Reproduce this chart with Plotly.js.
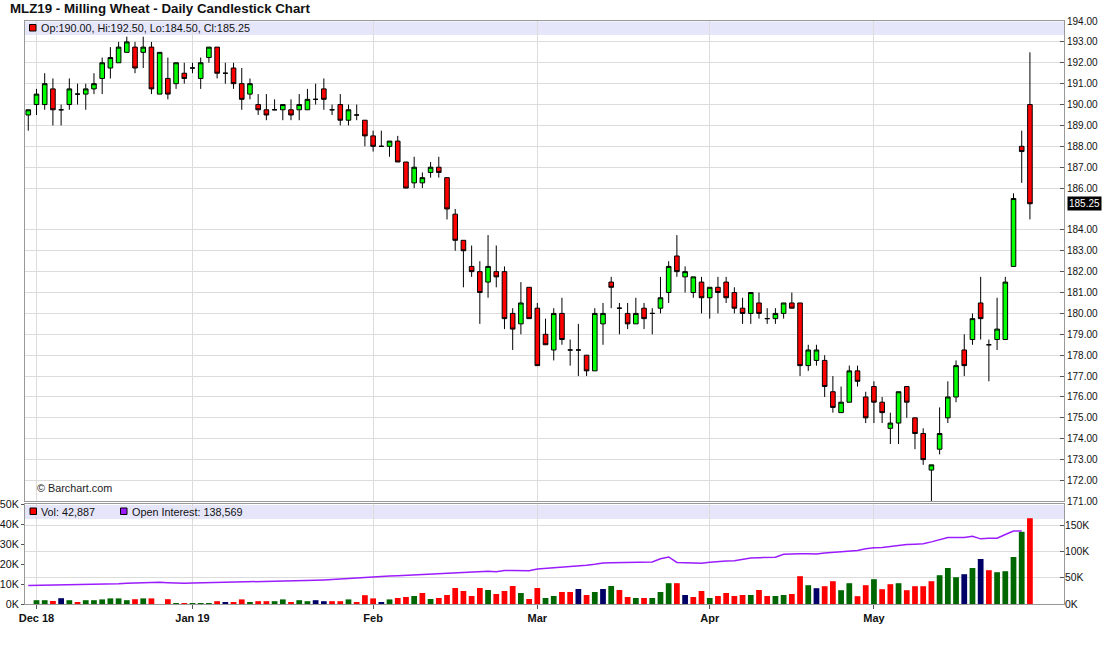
<!DOCTYPE html>
<html>
<head>
<meta charset="utf-8">
<script src="https://cdn.plot.ly/plotly-3.0.1.min.js"></script>
<style>
  html, body { margin: 0; padding: 0; background: #fff; }
  #chart { width: 1106px; height: 645px; }
</style>
</head>
<body>
<div id="chart"></div>
<script>
// ---- Data ----
const dates = [
  "2018-11-30",
  "2018-12-03","2018-12-04","2018-12-05","2018-12-06","2018-12-07",
  "2018-12-10","2018-12-11","2018-12-12","2018-12-13","2018-12-14",
  "2018-12-17","2018-12-18","2018-12-19","2018-12-20","2018-12-21",
  "2018-12-24","2018-12-27","2018-12-28","2018-12-31",
  "2019-01-02","2019-01-03","2019-01-04",
  "2019-01-07","2019-01-08","2019-01-09","2019-01-10","2019-01-11",
  "2019-01-14","2019-01-15","2019-01-16","2019-01-17","2019-01-18",
  "2019-01-21","2019-01-22","2019-01-23","2019-01-24","2019-01-25",
  "2019-01-28","2019-01-29","2019-01-30","2019-01-31",
  "2019-02-01",
  "2019-02-04","2019-02-05","2019-02-06","2019-02-07","2019-02-08",
  "2019-02-11","2019-02-12","2019-02-13","2019-02-14","2019-02-15",
  "2019-02-18","2019-02-19","2019-02-20","2019-02-21","2019-02-22",
  "2019-02-25","2019-02-26","2019-02-27","2019-02-28",
  "2019-03-01",
  "2019-03-04","2019-03-05","2019-03-06","2019-03-07","2019-03-08",
  "2019-03-11","2019-03-12","2019-03-13","2019-03-14","2019-03-15",
  "2019-03-18","2019-03-19","2019-03-20","2019-03-21","2019-03-22",
  "2019-03-25","2019-03-26","2019-03-27","2019-03-28","2019-03-29",
  "2019-04-01","2019-04-02","2019-04-03","2019-04-04","2019-04-05",
  "2019-04-08","2019-04-09","2019-04-10","2019-04-11","2019-04-12",
  "2019-04-15","2019-04-16","2019-04-17","2019-04-18",
  "2019-04-23","2019-04-24","2019-04-25","2019-04-26",
  "2019-04-29","2019-04-30",
  "2019-05-02","2019-05-03",
  "2019-05-06","2019-05-07","2019-05-08","2019-05-09","2019-05-10",
  "2019-05-13","2019-05-14","2019-05-15","2019-05-16","2019-05-17",
  "2019-05-20","2019-05-21","2019-05-22","2019-05-23","2019-05-24",
  "2019-05-27","2019-05-28","2019-05-29"
];

const openP = [
  189.5,190,190,190.75,189.75,190,190.5,190.5,190.75,191.25,
  191.75,192,192.5,192.75,192.5,192.75,190.5,191.25,191,191.5,
  191.75,191.25,192.25,192.75,191.5,191.75,191,190.5,190,189.75,
  189.75,189.75,189.75,189.75,189.75,190.25,190.75,189.75,190,189.25,
  189.5,189.25,188.5,188,188,188.25,187.25,186.25,186.25,186.75,
  187,186.5,184.75,183.5,182.25,182,181.5,182,182,180,
  179.5,181.25,180.25,179,178.25,180,178.25,178.25,178,177.25,
  179.5,181.5,180.25,180,179.5,180.25,180,180.25,181,182.75,
  181.75,181,181.5,180.75,181.25,181.5,181,180.25,180,180.5,
  179.75,179.75,180,180.5,180.5,177.5,177.75,177.75,176.25,175.25,
  175.75,177.25,176,176.5,175.75,174.5,174.75,176.5,175,174.25,
  172.5,173.5,175,176,178.25,178.75,180.5,178.5,178.75,178.75,
  182.25,188,190
];
const highP = [
  189.75,190.75,191.5,191.25,190,191.25,191,191,191.5,192.25,
  192.75,193,193.25,193,193.25,193,192.5,192.25,192,192,
  192,192.25,192.75,192.75,192,192,191.75,191.25,190.5,190.5,
  190.25,190,190.25,190.5,190.75,191,191.25,190,190.5,190,
  190,189.25,188.75,188.75,188.25,188.5,187.25,187.5,186.75,187.25,
  187.5,186.5,185,183.5,183.25,182.5,183.75,183.25,182.25,180.25,
  181.5,181.25,180.5,179.75,180.25,180.75,178.75,179.5,178,180.25,
  180.5,181.75,180.5,180.5,180.75,180.5,180.25,181.75,182.5,183.75,
  182.25,181.75,181.75,181.25,181.75,181.75,181.25,180.75,181,181,
  180.25,180.25,180.5,181,180.5,178.5,178.5,178,177,176.5,
  177.5,177.5,176.25,176.75,176,175.25,176.25,176.5,175,174.5,
  172.75,175.5,176.75,177.75,179,180,181.75,178.75,180.75,181.75,
  185.75,188.75,192.5
];
const lowP = [
  188.75,189.5,189.75,189,189,189.75,190,189.75,190.5,190.5,
  191.25,192,192.5,191.5,191.75,190.5,190.5,190.25,190.75,191,
  191.5,190.75,192,191.25,191,190.75,189.75,190.25,189.5,189.25,
  189.75,189.25,189.25,189.25,189.75,190,189.75,189.5,189,189,
  189.25,188,187.75,188,187.5,187.25,186,186,186,186.5,
  186.5,184.5,183,181.25,181.75,179.5,180.75,181.25,179.25,178.25,
  179,179.75,177.5,178.5,177.75,178.5,177.5,177,177,177.25,
  178.5,180.25,179,179.25,179.5,179.25,179,180,180.5,181.75,
  181,180.75,180,179.75,180,180.5,180,179.5,179.5,179.75,
  179.5,179.5,179.75,180.25,177,177.25,177.5,176,175.25,175.25,
  175.75,176.5,174.75,174.75,174.75,173.75,173.75,175,173.5,172.75,
  171,173.25,174.75,175.75,177,178.5,178.75,176.75,178.25,178.75,
  182.25,186.25,184.5
];
const closeP = [
  189.75,190.5,191,189.75,189.75,190.75,190.5,190.75,191,192,
  192.25,192.75,193,191.75,192.75,190.75,192.5,190.5,192,191.25,
  191.75,192,192.75,191.5,191.5,191,190.25,191,189.75,189.5,
  189.75,190,189.5,190,190.25,190.25,190.25,189.75,189.25,189.75,
  189.5,188.5,188,188,188.25,187.25,186,187,186.5,187,
  186.75,185,183.5,183,182,181,182.25,181.75,179.75,179.25,
  180.5,179.75,177.5,178.5,180,178.75,178.25,178.25,177.25,180,
  180,181.25,180.25,179.5,180,179.75,180,180.75,182.25,182,
  182,181.75,180.75,181.25,181,180.75,180.25,180,181,180,
  179.75,180,180.5,180.25,177.5,178.25,178.25,176.5,175.5,175.75,
  177.25,176.75,175,175.75,175.25,174.75,176.25,175.75,174.25,173,
  172.75,174.25,176,177.5,177.5,179.75,179.75,178.5,179.25,181.5,
  185.5,187.75,185.25
];

// Volume (contracts)
const volume = [
  0,1900,1900,1500,2900,1900,1000,1900,1900,2300,
  2800,2800,1900,2400,2800,2800,0,2400,500,500,
  500,500,500,1400,1000,1000,2300,1000,1400,1400,
  1400,2300,1000,1900,1400,1900,1400,1400,1400,2300,
  1000,4400,2800,1000,2300,3000,3500,4000,5500,2500,
  3000,4500,8000,6500,4000,8000,7000,5000,6500,9000,
  5500,2500,8000,3000,4000,6000,6000,7500,4500,6000,
  7500,9000,7000,3500,3000,3000,3000,6000,10400,10400,
  4500,3500,6500,3000,4000,5500,4000,4500,4500,7000,
  4000,4000,4500,5000,13900,9400,7900,8900,11400,6900,
  10400,3900,9400,12400,7400,9900,10400,6900,8900,8900,
  11400,14400,18000,13400,14900,18000,22500,16900,15900,16400,
  23500,36100,42887
];

// Open interest (contracts), last reported day = 2019-05-28
const openInterest = [
  35000,35200,35500,35800,36000,36300,36600,37000,37300,37600,
  38000,38500,39500,40200,40500,40900,41200,40500,39500,39500,
  39700,40000,40300,40600,40900,41200,41400,41600,41800,42000,
  42500,43100,43600,44100,44700,45200,45800,46300,47300,48400,
  49500,50700,51500,52300,53100,53900,54700,55500,56200,56900,
  57500,58100,58900,59600,60600,61600,62000,61500,63500,63500,
  63000,63000,66500,67500,68500,69500,70500,71500,73500,75500,
  78000,78200,78400,78600,78800,79000,79800,86000,89400,79000,
  78600,78200,77500,79500,81100,81500,82400,85000,87500,88000,
  88300,88700,94500,95800,95700,95400,95200,97000,98300,99200,
  99800,101500,105000,107000,107500,109500,111500,113000,113600,114500,
  118000,121800,126300,126300,126300,128800,123800,125000,125000,132000,
  138500,138569
];

const monthTickDates = ["2018-12-03","2019-01-02","2019-02-01","2019-03-01","2019-04-01","2019-05-02"];
const monthLabels = ["Dec 18","Jan 19","Feb","Mar","Apr","May"];
const volTickVals = [0,10000,20000,30000,40000,50000];
const volTickText = ["0K","10K","20K","30K","40K","50K"];
const oiTickVals = [0,50000,100000,150000];
const oiTickText = ["0K","50K","100K","150K"];
const priceTicks = [171,172,173,174,175,176,177,178,179,180,181,182,183,184,185,186,187,188,189,190,191,192,193,194];

const chartTitle = "MLZ19 - Milling Wheat - Daily Candlestick Chart";

// ---- Derived ----
const n = dates.length;
const lastO = openP[n-1], lastH = highP[n-1], lastL = lowP[n-1], lastC = closeP[n-1];
const volColors = closeP.map((c, i) => {
  if (i === 0) return "#006600";
  if (c > closeP[i-1]) return "#006600";
  if (c < closeP[i-1]) return "#ff0000";
  return "#000066";
});
const fmtInt = v => Math.round(v).toString().replace(/\B(?=(\d{3})+(?!\d))/g, ",");
const priceTickVals = priceTicks.filter(v => Math.abs(v - lastC) > 0.5);

// pixel helpers for paper coordinates (plot area: x 25..1064, y 21..604)
const L = 25, R = 1064, T = 21, B = 604;
const px = p => (p - L) / (R - L);
const py = p => (B - p) / (B - T);

const FONT = "Liberation Sans, Arial, Helvetica, sans-serif";
const GRID = "#dcdcdc";
const AXL = "#999999";

const candle = {
  type: "candlestick",
  x: dates, open: openP, high: highP, low: lowP, close: closeP,
  xaxis: "x2", yaxis: "y",
  whiskerwidth: 0,
  increasing: { fillcolor: "#00ff00", line: { color: "#000000", width: 1 } },
  decreasing: { fillcolor: "#ff0000", line: { color: "#000000", width: 1 } },
  showlegend: false, hoverinfo: "x+y"
};
const volTrace = {
  type: "bar", x: dates, y: volume, xaxis: "x", yaxis: "y2",
  marker: { color: volColors, line: { width: 0 } },
  showlegend: false
};
const oiTrace = {
  type: "scatter", mode: "lines",
  x: dates.slice(0, openInterest.length), y: openInterest,
  xaxis: "x", yaxis: "y3",
  line: { color: "#9b1cff", width: 1.5 },
  showlegend: false
};

const xRange = [-0.4, 126.15];
const priceBottom = py(501.4);
const volTop = py(504);

const layout = {
  width: 1106, height: 645, autosize: false,
  paper_bgcolor: "#ffffff", plot_bgcolor: "#ffffff",
  margin: { l: L, r: 1106 - R, t: T, b: 645 - B, pad: 0 },
  font: { family: FONT, size: 11, color: "#222" },
  title: {
    text: "<b>" + chartTitle + "</b>",
    x: 10 / 1106, xref: "container", xanchor: "left",
    y: 1 - 8 / 645, yref: "container", yanchor: "middle",
    font: { family: FONT, size: 13.3, color: "#111" }
  },
  showlegend: false,
  bargap: 0.3,
  boxgap: 0.2,
  xaxis: {
    type: "category", range: xRange, anchor: "y2",
    tickmode: "array", tickvals: monthTickDates, ticktext: monthLabels,
    ticks: "outside", ticklen: 4, tickcolor: "#555",
    tickfont: { family: FONT, size: 11, color: "#111", weight: "bold" },
    showgrid: true, gridcolor: GRID, gridwidth: 1,
    showline: true, linecolor: AXL, linewidth: 1, mirror: true,
    rangeslider: { visible: false }, fixedrange: true
  },
  xaxis2: {
    type: "category", range: xRange, anchor: "y", matches: "x",
    tickmode: "array", tickvals: monthTickDates, ticktext: monthLabels,
    showticklabels: false, ticks: "",
    showgrid: true, gridcolor: GRID, gridwidth: 1,
    showline: true, linecolor: AXL, linewidth: 1, mirror: true,
    rangeslider: { visible: false }
  },
  yaxis: {
    domain: [priceBottom, 1], range: [171, 194], side: "right", anchor: "x2",
    tickmode: "array", tickvals: priceTickVals, tickformat: ".2f",
    ticks: "inside", ticklen: 4, tickcolor: "#555",
    tickfont: { family: FONT, size: 10, color: "#111" },
    showgrid: true, gridcolor: GRID, gridwidth: 1, zeroline: false,
    showline: true, linecolor: AXL, linewidth: 1, mirror: true
  },
  yaxis2: {
    domain: [0, volTop], range: [0, 50000], side: "left", anchor: "x",
    tickmode: "array", tickvals: volTickVals, ticktext: volTickText,
    ticks: "outside", ticklen: 3, tickcolor: "#555",
    tickfont: { family: FONT, size: 10.7, color: "#111" },
    showgrid: false, zeroline: false,
    showline: true, linecolor: AXL, linewidth: 1, mirror: true
  },
  yaxis3: {
    overlaying: "y2", side: "right", range: [0, 190000], anchor: "x",
    tickmode: "array", tickvals: oiTickVals, ticktext: oiTickText,
    ticks: "inside", ticklen: 4, tickcolor: "#555",
    tickfont: { family: FONT, size: 10.4, color: "#111" },
    showgrid: true, gridcolor: GRID, gridwidth: 1, zeroline: false,
    showline: false
  },
  shapes: [
    { type: "rect", xref: "paper", yref: "paper", x0: 0, x1: 1, y0: py(35), y1: py(21.5),
      fillcolor: "#e6e6fa", line: { width: 0 }, layer: "below" },
    { type: "rect", xref: "paper", yref: "paper", x0: 0, x1: 1, y0: py(519), y1: py(505),
      fillcolor: "#e6e6fa", line: { width: 0 }, layer: "below" },
    { type: "rect", xref: "paper", yref: "paper", x0: px(29.5), x1: px(36), y0: py(31), y1: py(24.5),
      fillcolor: "#ff0000", line: { color: "#000", width: 1 } },
    { type: "rect", xref: "paper", yref: "paper", x0: px(30), x1: px(36.5), y0: py(514.5), y1: py(508),
      fillcolor: "#ff0000", line: { color: "#000", width: 1 } },
    { type: "rect", xref: "paper", yref: "paper", x0: px(120.5), x1: px(127), y0: py(514.5), y1: py(508),
      fillcolor: "#9b1cff", line: { color: "#000", width: 1 } }
  ],
  annotations: [
    { xref: "paper", yref: "paper", x: px(39), y: py(27.5), xanchor: "left", yanchor: "middle",
      showarrow: false, font: { family: FONT, size: 10.8, color: "#111" },
      text: "Op:" + lastO.toFixed(2) + ", Hi:" + lastH.toFixed(2) + ", Lo:" + lastL.toFixed(2) + ", Cl:" + lastC.toFixed(2) },
    { xref: "paper", yref: "paper", x: px(39), y: py(511.5), xanchor: "left", yanchor: "middle",
      showarrow: false, font: { family: FONT, size: 10.8, color: "#111" },
      text: "Vol: " + fmtInt(volume[n-1]) },
    { xref: "paper", yref: "paper", x: px(130), y: py(511.5), xanchor: "left", yanchor: "middle",
      showarrow: false, font: { family: FONT, size: 10.8, color: "#111" },
      text: "Open Interest: " + fmtInt(openInterest[openInterest.length-1]) },
    { xref: "paper", yref: "paper", x: px(35), y: py(488), xanchor: "left", yanchor: "middle",
      showarrow: false, font: { family: FONT, size: 10.8, color: "#222" },
      text: "© Barchart.com" },
    { xref: "paper", yref: "y", x: 1, y: lastC, xanchor: "left", yanchor: "middle", xshift: 3,
      showarrow: false, bgcolor: "#000000", borderpad: 1,
      font: { family: FONT, size: 10, color: "#ffffff" },
      text: lastC.toFixed(2) }
  ]
};

Plotly.newPlot("chart", [oiTrace, volTrace, candle], layout, { displayModeBar: false, staticPlot: true });
</script>
</body>
</html>
